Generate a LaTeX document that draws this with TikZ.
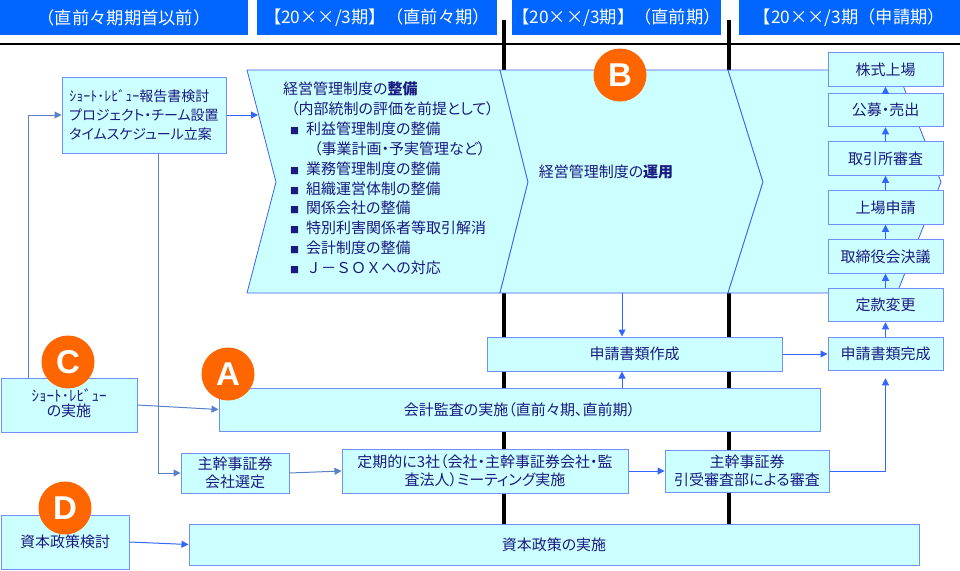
\documentclass[tikz,border=0pt]{standalone}
\usepackage{fontspec}
\setmainfont{Noto Sans CJK JP}[RawFeature={+palt}]
\newfontfamily\jpm{Noto Sans CJK JP}
\newfontfamily\lat{Liberation Sans}
\usetikzlibrary{arrows.meta}
\definecolor{hdr}{HTML}{0066FF}
\definecolor{boxf}{HTML}{CCFFFF}
\definecolor{boxb}{HTML}{7090F8}
\definecolor{chevb}{HTML}{4060F0}
\definecolor{txt}{HTML}{1A1A80}
\definecolor{arr}{HTML}{3366FF}
\definecolor{arrm}{HTML}{5A80C8}
\definecolor{orng}{HTML}{FF6600}
\newcommand{\bul}{\hspace*{7pt}{\fontsize{9}{9}\selectfont ■}\hspace*{7pt}}
\begin{document}
\begin{tikzpicture}[x=1pt,y=-1pt,
  bx/.style={draw=boxb, fill=boxf, line width=1pt, text=txt, inner sep=0pt, align=center, font=\fontsize{15}{18}\selectfont},
  hd/.style={fill=hdr, text=white, inner sep=0pt, minimum height=35pt, font=\jpm\fontsize{17.3}{18}\selectfont},
  circ/.style={circle, fill=orng, minimum size=53pt, inner sep=0pt, text=white, font=\lat\bfseries\fontsize{33}{33}\selectfont},
  conn/.style={draw=arr, line width=1pt, -{Triangle[length=7pt,width=7pt]}},
  connm/.style={draw=arrm, line width=1pt, -{Triangle[length=7pt,width=7pt]}},
  chev/.style={draw=chevb, fill=boxf, line width=0.8pt},
  vline/.style={line width=3.5pt, black},
  rbox/.style={bx, minimum width=115pt, minimum height=33.5pt}
]
\useasboundingbox (0,0) rectangle (960,570);
% headers
\node[hd, minimum width=248pt] (h1) at (124,17.5) {（直前々期期首以前）};
\node[hd, minimum width=240pt] (h2) at (377,17.5) {【20××/3期】（直前々期）};
\node[hd, minimum width=209pt] (h3) at (616.5,17.5) {【20××/3期】（直前期）};
\node[hd, minimum width=221pt] (h4) at (849.5,17.5) {【20××/3期（申請期）};
% period lines
\draw[line width=2.8pt] (0,44) -- (960,44);
\draw[vline] (504,20) -- (504,525);
\draw[vline] (729,20) -- (729,525);
% chevrons
\draw[chev] (247,70) -- (500,70) -- (528,182) -- (500,293) -- (247,293) -- (276,182) -- cycle;
\draw[chev] (500,70) -- (728,70) -- (763,182) -- (728,293) -- (500,293) -- (528,182) -- cycle;
\draw[chev] (728,70) -- (897,70) -- (941,182) -- (897,293) -- (728,293) -- (763,182) -- cycle;
\node[text=txt, inner sep=0pt, anchor=north west, align=left, font=\fontsize{15}{19.8}\selectfont] (seibi) at (283,81) {%
経営管理制度の\textbf{整備}\\[1pt]
\hspace*{8pt}（内部統制の評価を前提として）\\
\bul 利益管理制度の整備\\
\hspace*{31pt}（事業計画・予実管理など）\\
\bul 業務管理制度の整備\\
\bul 組織運営体制の整備\\
\bul 関係会社の整備\\
\bul 特別利害関係者等取引解消\\
\bul 会計制度の整備\\
\bul {\jpm Ｊ－ＳＯＸ}への対応};
\node[text=txt, inner sep=0pt, font=\fontsize{15}{18}\selectfont] (unyo) at (606,172) {経営管理制度の\textbf{運用}};
% boxes
\node[bx, align=left, minimum width=164pt, minimum height=76pt, font=\fontsize{14}{19}\selectfont] (srbox) at (144,115) {ｼｮｰﾄ･ﾚﾋﾞｭｰ報告書検討\\プロジェクト・チーム設置\\タイムスケジュール立案};
\node[bx, minimum width=136pt, minimum height=54pt] (cbox) at (69,405) {\raisebox{-4pt}{\begin{tabular}{@{}c@{}}ｼｮｰﾄ･ﾚﾋﾞｭｰ\\[-3pt]の実施\end{tabular}}};
\node[bx, minimum width=601pt, minimum height=43pt] (audit) at (519.5,409.5) {会計監査の実施（直前々期、直前期）};
\node[bx, minimum width=108pt, minimum height=40pt] (kanji) at (235,473) {主幹事証券\\会社選定};
\node[bx, minimum width=286pt, minimum height=44pt] (teiki) at (485,471) {定期的に3社（会社・主幹事証券会社・監\\査法人）ミーティング実施};
\node[bx, minimum width=164pt, minimum height=42pt] (shinsa) at (747,471) {主幹事証券\\引受審査部による審査};
\node[bx, minimum width=295pt, minimum height=34pt] (sakusei) at (634.5,354) {申請書類作成};
\node[bx, minimum width=128pt, minimum height=54pt] (dbox) at (65,542) {\raisebox{-6pt}{資本政策検討}};
\node[bx, minimum width=730pt, minimum height=41pt] (shihon) at (554,544.5) {資本政策の実施};
% right column
\node[rbox] (kabu) at (885.5,69.5) {株式上場};
\node[rbox] (kobo) at (885.5,110) {公募・売出};
\node[rbox] (torihiki) at (885.5,158.5) {取引所審査};
\node[rbox] (shinsei) at (885.5,207.5) {上場申請};
\node[rbox] (torishimari) at (885.5,256.5) {取締役会決議};
\node[rbox] (teikan) at (885.5,305) {定款変更};
\node[rbox] (kansei) at (885.5,354) {申請書類完成};
% connectors
\coordinate (chevL) at (258,115);
\coordinate (chevB) at (622,293);
\draw[conn] (srbox.east) -- (chevL);
\draw[conn] (chevB) -- (chevB |- sakusei.north);
\draw[conn] (chevB |- audit.north) -- (chevB |- sakusei.south);
\draw[conn] (sakusei.east) -- (kansei.west);
\draw[conn, shorten >=7pt] (shinsa.east) -| (kansei.south);
\draw[conn] (kansei.north) -- (teikan.south);
\draw[conn] (teikan.north) -- (torishimari.south);
\draw[conn] (torishimari.north) -- (shinsei.south);
\draw[conn] (shinsei.north) -- (torihiki.south);
\draw[conn] (torihiki.north) -- (kobo.south);
\draw[conn] (kobo.north) -- (kabu.south);
\draw[connm] ([xshift=-41pt]cbox.north) |- (srbox.west);
\draw[connm] ([xshift=14pt]srbox.south) |- (kanji.west);
\draw[connm] (cbox.east) -- (audit.west);
\draw[connm] (kanji.east) -- (teiki.west);
\draw[conn] (teiki.east) -- (shinsa.west);
\draw[conn] (dbox.east) -- (shihon.west);
% markers
\node[circ] (mB) at (620,75) {B};
\node[circ] (mC) at (68,362) {C};
\node[circ] (mA) at (228,374) {A};
\node[circ] (mD) at (65,508) {D};
\end{tikzpicture}
\end{document}
